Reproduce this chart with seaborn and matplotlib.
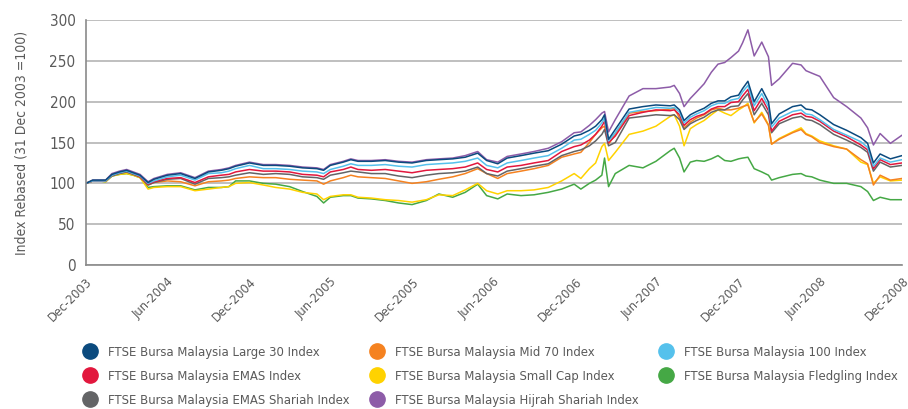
import pandas as pd
import matplotlib
matplotlib.use("Agg")
import matplotlib.pyplot as plt
from matplotlib.lines import Line2D
import seaborn as sns

# sample dates (month ends plus a few points around the big moves)
dates = [
    "2003-12-31", "2004-01-15", "2004-01-30", "2004-02-13", "2004-02-27", "2004-03-15", "2004-03-31", "2004-04-15", "2004-04-30",
    "2004-05-18", "2004-05-31", "2004-06-30", "2004-07-30", "2004-08-31", "2004-09-30", "2004-10-29", "2004-11-15", "2004-11-30", "2004-12-31",
    "2005-01-31", "2005-02-28", "2005-03-31", "2005-04-29", "2005-05-31", "2005-06-15", "2005-06-30", "2005-07-29", "2005-08-15", "2005-08-31",
    "2005-09-30", "2005-10-31", "2005-11-30", "2005-12-30", "2006-01-31", "2006-02-28", "2006-03-31", "2006-04-28", "2006-05-26", "2006-06-15",
    "2006-07-10", "2006-07-31", "2006-08-31", "2006-09-29", "2006-10-31", "2006-11-30", "2006-12-28", "2007-01-12", "2007-01-31", "2007-02-14",
    "2007-02-28", "2007-03-06", "2007-03-15", "2007-03-30", "2007-04-30", "2007-05-31", "2007-06-29", "2007-07-31", "2007-08-09", "2007-08-21",
    "2007-08-31", "2007-09-14", "2007-09-28", "2007-10-15", "2007-10-31", "2007-11-15", "2007-11-30", "2007-12-14", "2007-12-31", "2008-01-09",
    "2008-01-21", "2008-02-04", "2008-02-21", "2008-03-07", "2008-03-14", "2008-03-31", "2008-04-30", "2008-05-19", "2008-05-30", "2008-06-12",
    "2008-06-30", "2008-07-31", "2008-08-29", "2008-09-30", "2008-10-15", "2008-10-28", "2008-11-12", "2008-12-05", "2008-12-31",
]

large30 = [100, 104, 104, 104, 111, 114, 116, 113, 110,
           101, 105, 110, 112, 106, 114, 116, 118, 121, 125,
           122, 122, 121, 119, 118, 116, 122, 126, 129, 127,
           127, 128, 126, 125, 128, 129, 130, 132, 137, 128,
           124, 131, 134, 137, 140, 148, 158, 160, 165, 170,
           178, 184, 154, 166, 191, 194, 196, 195, 196, 190,
           177, 184, 188, 192, 198, 201, 201, 206, 208, 216,
           225, 200, 216, 200, 173, 185, 194, 196, 191, 190,
           184, 172, 165, 156, 149, 125, 136, 130, 134]
fbm100 = [100, 103, 103, 103, 110, 113, 115, 112, 109,
          100, 103, 108, 110, 104, 112, 113, 115, 118, 122,
          118, 118, 117, 115, 114, 112, 117, 121, 124, 122,
          122, 123, 121, 120, 123, 124, 125, 127, 131, 122,
          119, 125, 128, 131, 134, 143, 153, 154, 160, 165,
          174, 180, 152, 162, 187, 190, 193, 192, 193, 187,
          174, 181, 185, 189, 195, 198, 198, 202, 204, 212,
          220, 195, 210, 194, 169, 180, 188, 190, 185, 184,
          178, 166, 159, 151, 144, 121, 131, 126, 129]
emas = [100, 103, 103, 103, 110, 113, 115, 112, 108,
        99, 102, 106, 107, 101, 108, 110, 111, 114, 117,
        115, 115, 114, 111, 110, 108, 114, 117, 120, 117,
        116, 117, 115, 113, 116, 117, 118, 120, 125, 117,
        114, 120, 122, 125, 128, 139, 145, 147, 153, 160,
        170, 176, 150, 158, 183, 187, 190, 189, 190, 184,
        171, 178, 182, 185, 191, 194, 194, 199, 200, 207,
        215, 189, 204, 189, 164, 176, 184, 186, 182, 181,
        176, 164, 157, 147, 141, 118, 129, 123, 125]
emas_shariah = [100, 103, 103, 103, 109, 112, 114, 111, 108,
                98, 101, 105, 106, 99, 106, 107, 108, 110, 113,
                111, 112, 111, 108, 107, 105, 110, 113, 115, 114,
                112, 112, 109, 107, 110, 112, 113, 115, 120, 112,
                109, 115, 118, 121, 124, 134, 139, 141, 146, 152,
                160, 166, 146, 150, 180, 182, 184, 183, 184, 178,
                166, 173, 177, 181, 187, 190, 190, 194, 195, 202,
                210, 184, 198, 184, 162, 173, 180, 182, 178, 177,
                172, 160, 153, 144, 138, 115, 126, 120, 122]
mid70 = [100, 103, 103, 103, 110, 113, 114, 111, 108,
         98, 101, 103, 102, 97, 102, 103, 104, 106, 108,
         107, 107, 105, 104, 103, 99, 103, 107, 110, 108,
         107, 106, 103, 100, 102, 105, 108, 112, 118, 112,
         106, 112, 115, 118, 122, 132, 136, 138, 150, 160,
         168, 170, 148, 160, 186, 188, 189, 191, 192, 180,
         168, 175, 180, 184, 190, 192, 190, 190, 192, 194,
         196, 175, 185, 171, 148, 154, 162, 166, 160, 157,
         150, 145, 142, 129, 124, 98, 110, 104, 106]
smallcap = [100, 103, 103, 102, 109, 111, 112, 110, 107,
            93, 95, 96, 96, 91, 93, 95, 96, 100, 101,
            98, 95, 93, 89, 87, 80, 84, 86, 86, 83,
            82, 80, 79, 77, 80, 86, 85, 92, 100, 91,
            87, 91, 91, 92, 95, 103, 112, 106, 118, 125,
            145, 149, 128, 138, 160, 164, 170, 182, 184, 170,
            146, 167, 172, 177, 184, 190, 186, 183, 190, 193,
            198, 174, 187, 172, 148, 155, 163, 168, 161, 158,
            152, 146, 142, 126, 123, 100, 108, 103, 104]
fledgling = [100, 103, 103, 102, 109, 111, 112, 110, 107,
             95, 96, 97, 97, 92, 95, 95, 96, 103, 103,
             100, 99, 96, 90, 84, 76, 83, 85, 85, 82,
             81, 79, 76, 74, 79, 87, 83, 89, 99, 85,
             81, 87, 85, 86, 89, 93, 99, 93, 100, 104,
             110, 131, 96, 112, 122, 119, 127, 140, 143, 131,
             114, 126, 128, 127, 130, 134, 128, 127, 130, 131,
             132, 118, 114, 110, 104, 107, 111, 112, 109, 108,
             104, 100, 100, 96, 90, 79, 83, 80, 80]
hijrah = [100, 104, 104, 104, 112, 115, 117, 114, 111,
          102, 106, 111, 113, 107, 115, 117, 119, 122, 126,
          123, 123, 122, 120, 119, 117, 123, 127, 130, 128,
          128, 129, 127, 126, 129, 130, 131, 134, 139, 129,
          126, 133, 136, 139, 143, 151, 162, 163, 171, 178,
          186, 188, 163, 178, 207, 216, 216, 218, 220, 210,
          194, 204, 212, 222, 236, 246, 248, 254, 262, 272,
          288, 256, 273, 255, 220, 228, 247, 245, 238, 235,
          231, 205, 194, 180, 168, 147, 161, 149, 159]

names = [
    "FTSE Bursa Malaysia Large 30 Index",
    "FTSE Bursa Malaysia Mid 70 Index",
    "FTSE Bursa Malaysia 100 Index",
    "FTSE Bursa Malaysia EMAS Index",
    "FTSE Bursa Malaysia Small Cap Index",
    "FTSE Bursa Malaysia Fledgling Index",
    "FTSE Bursa Malaysia EMAS Shariah Index",
    "FTSE Bursa Malaysia Hijrah Shariah Index",
]
series = [large30, mid70, fbm100, emas, smallcap, fledgling, emas_shariah, hijrah]
colors = ["#0b4a7e", "#f58220", "#55c1ec", "#e2173d", "#ffd200", "#45a845", "#636466", "#8d5ca8"]

tick_dates = ["2003-12-31", "2004-06-30", "2004-12-31", "2005-06-30", "2005-12-31", "2006-06-30",
              "2006-12-31", "2007-06-30", "2007-12-31", "2008-06-30", "2008-12-31"]

TEXT = "#5a5a5a"


def main():
    sns.set_style("white")
    plt.rcParams["font.family"] = ["DejaVu Sans"]
    plt.rcParams["font.stretch"] = "condensed"

    frames = []
    for name, vals in zip(names, series):
        frames.append(pd.DataFrame({"date": pd.to_datetime(dates), "value": vals, "index": name}))
    df = pd.concat(frames, ignore_index=True)

    fig = plt.figure(figsize=(9.08, 4.09), dpi=100)
    ax = fig.add_axes([0.0947, 0.352, 0.8987, 0.599])

    # draw order: purple at the back, navy on top
    draw_order = [7, 5, 4, 1, 6, 3, 2, 0]
    for i in draw_order:
        sub = df[df["index"] == names[i]]
        sns.lineplot(data=sub, x="date", y="value", color=colors[i], linewidth=1.1, ax=ax,
                     legend=False)

    ax.set_ylim(0, 300)
    ax.set_yticks(range(0, 301, 50))
    ax.set_xlim(pd.Timestamp("2003-12-31"), pd.Timestamp("2008-12-31"))
    ticks = pd.to_datetime(tick_dates)
    ax.set_xticks(ticks)
    ax.set_xticklabels([t.strftime("%b-%Y") for t in ticks], rotation=45, ha="right",
                       rotation_mode="anchor", fontsize=9.3)
    ax.set_xlabel("")
    ax.set_ylabel("Index Rebased (31 Dec 2003 =100)", color=TEXT, fontsize=10, labelpad=15)

    ax.yaxis.grid(True, color="#b4b4b4", linewidth=1.2)
    ax.set_axisbelow(True)
    for s in ["top", "right"]:
        ax.spines[s].set_visible(False)
    for s in ["left", "bottom"]:
        ax.spines[s].set_color("#8a8a8a")
        ax.spines[s].set_linewidth(1.2)
    ax.tick_params(axis="y", colors="#8a8a8a", labelcolor=TEXT, labelsize=11, length=4, width=1)
    ax.tick_params(axis="x", colors="#8a8a8a", labelcolor=TEXT, length=4, width=1, pad=3)

    # legend in row order: reshuffle so the 3-column legend reads across
    order = [0, 3, 6, 1, 4, 7, 2, 5]
    handles = [Line2D([], [], linestyle="none", marker="o", markersize=11,
                      markerfacecolor=colors[i], markeredgecolor=colors[i]) for i in order]
    labels = [names[i] for i in order]
    fig.legend(handles, labels, ncol=3, loc="upper left", bbox_to_anchor=(0.0844, 0.171),
               frameon=False, fontsize=9.4, labelcolor=TEXT, handlelength=1.0,
               handletextpad=0.9, columnspacing=1.6, labelspacing=0.85, borderpad=0)

    fig.savefig("out.png", dpi=100)
    plt.close(fig)


if __name__ == "__main__":
    main()
